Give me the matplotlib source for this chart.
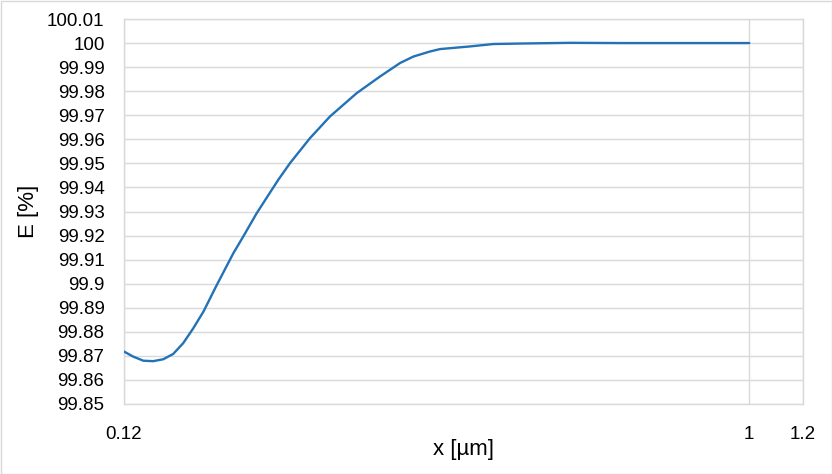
import matplotlib
matplotlib.use("Agg")
import matplotlib.pyplot as plt
from matplotlib.patches import Rectangle

x_um = [0.12, 0.1238, 0.1281, 0.1325, 0.1371, 0.1418, 0.1467, 0.1518, 0.1571,
        0.1644, 0.1739, 0.1798, 0.1882, 0.2025, 0.2107, 0.2255, 0.2413, 0.2642,
        0.2859, 0.3060, 0.3202, 0.3388, 0.3504, 0.3880, 0.4199, 0.4597, 0.5446,
        0.6452, 0.7909, 1.0]
E_pct = [99.8718, 99.8697, 99.8680, 99.8678, 99.8686, 99.8708, 99.8753, 99.8815,
         99.8884, 99.8995, 99.9127, 99.9196, 99.9293, 99.9432, 99.9501, 99.9605,
         99.9695, 99.9792, 99.9861, 99.9917, 99.9944, 99.9965, 99.9975, 99.9986,
         99.9996, 99.9998, 100.0001, 100.0, 100.0, 100.0]

x_ticks = [0.12, 1, 1.2]
x_tick_labels = ["0.12", "1", "1.2"]
y_ticks = [99.85 + 0.01 * i for i in range(17)]
y_tick_labels = ["99.85", "99.86", "99.87", "99.88", "99.89", "99.9", "99.91",
                 "99.92", "99.93", "99.94", "99.95", "99.96", "99.97", "99.98",
                 "99.99", "100", "100.01"]

plt.rcParams['font.family'] = ['Liberation Sans', 'DejaVu Sans']
fig = plt.figure(figsize=(8.32, 4.74), dpi=100)
ax = fig.add_axes([124/832, 1-404/474, (803-124)/832, (404-19)/474])

grid_c = '#d9d9d9'
ax.plot(x_um, E_pct, color='#2372b7', lw=1.7, solid_capstyle='round',
        solid_joinstyle='round', zorder=3)
ax.set_xscale('log')
ax.set_xlim(0.12, 1.2)
ax.set_ylim(99.85, 100.01)
ax.set_xticks(x_ticks)
ax.set_xticklabels(x_tick_labels)
ax.minorticks_off()
ax.set_yticks(y_ticks)
ax.set_yticklabels(y_tick_labels)
ax.grid(True, color=grid_c, lw=1)
for s in ax.spines.values():
    s.set_color(grid_c)
    s.set_linewidth(1)
ax.tick_params(axis='both', length=0, labelsize=13.5, colors='#000000')
ax.tick_params(axis='y', pad=14)
ax.tick_params(axis='x', pad=16)
ax.set_xlabel('x [µm]', fontsize=16, labelpad=-3)
ax.set_ylabel('E [%]', fontsize=16, labelpad=6)

fig.patches.append(Rectangle((0.5/832, 0.5/474), 1-1/832, 1-1/474,
                             transform=fig.transFigure, fill=False,
                             edgecolor=grid_c, lw=1))
fig.savefig('out.png', dpi=100)
